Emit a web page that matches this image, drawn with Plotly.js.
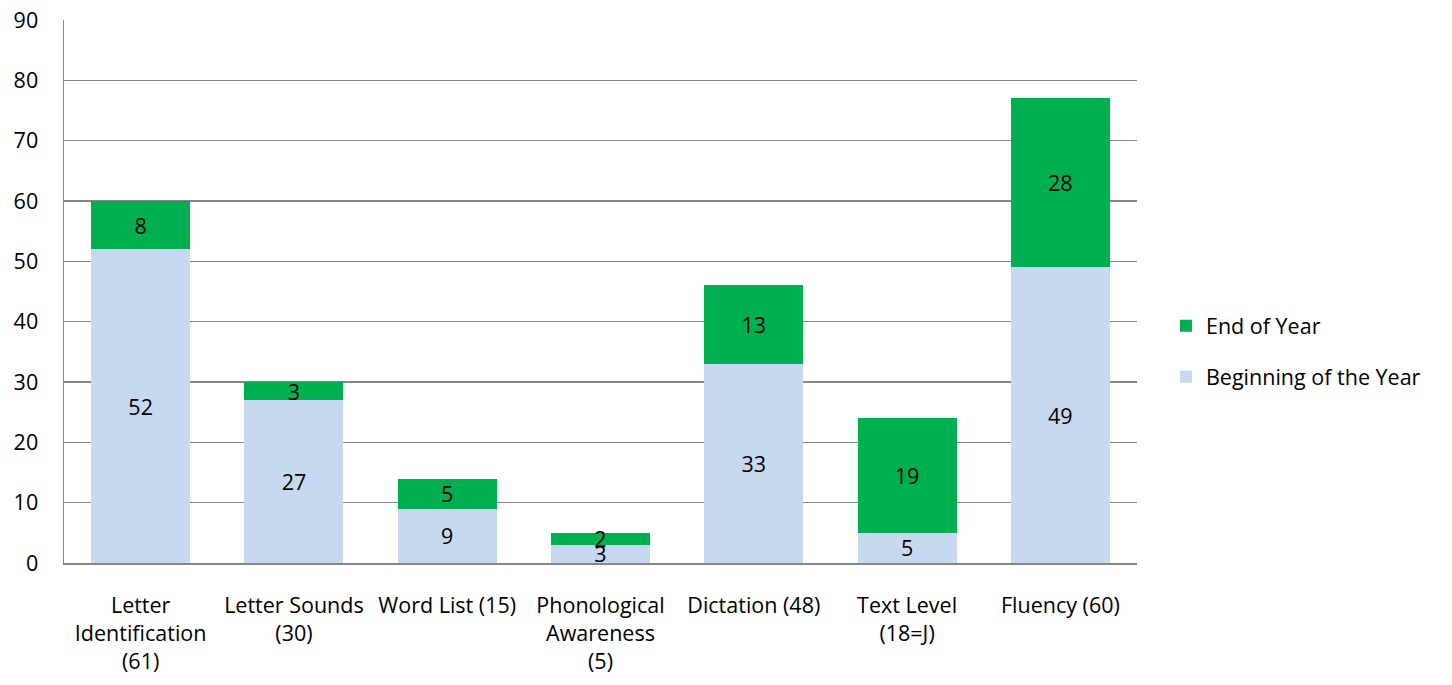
<!DOCTYPE html>
<html><head><meta charset="utf-8">
<script src="https://cdn.plot.ly/plotly-3.0.1.min.js"></script>
<style>html,body{margin:0;padding:0;background:#fff;}#chart{width:1452px;height:685px;}</style>
</head><body><div id="chart"></div>
<script>
const categories = ["Letter<br>Identification<br>(61)", "Letter Sounds<br>(30)", "Word List (15)", "Phonological<br>Awareness<br>(5)", "Dictation (48)", "Text Level<br>(18=J)", "Fluency (60)"];
const beginningOfYear = [52, 27, 9, 3, 33, 5, 49];
const endOfYear = [8, 3, 5, 2, 13, 19, 28];
const yTicks = [0, 10, 20, 30, 40, 50, 60, 70, 80, 90];

const FONT = "'Open Sans', sans-serif";
const FS = 21.5;
const gridColor = "#868686";

const common = {
  type: 'bar',
  x: categories,
  textposition: 'inside',
  insidetextanchor: 'middle',
  constraintext: 'none',
  textangle: 0,
  textfont: {family: FONT, size: FS, color: '#000'},
  hoverinfo: 'skip',
  width: 0.646
};

const traces = [
  Object.assign({}, common, {
    name: 'Beginning of the Year', y: beginningOfYear, text: beginningOfYear.map(String),
    marker: {color: '#C6D9F1'}, legendgroup: 'b', legendrank: 2
  }),
  Object.assign({}, common, {
    name: 'End of Year', y: endOfYear, text: endOfYear.map(String),
    marker: {color: '#00B050'}, legendgroup: 'e', legendrank: 1
  })
];

const layout = {
  width: 1452, height: 685,
  margin: {l: 64, r: 315, t: 20, b: 122},
  barmode: 'stack',
  paper_bgcolor: '#fff', plot_bgcolor: '#fff',
  font: {family: FONT, size: FS, color: '#000'},
  xaxis: {
    showgrid: false, showline: true, linecolor: gridColor, linewidth: 1.5,
    tickfont: {family: FONT, size: FS, color: '#000'},
    ticklabelstandoff: 23, fixedrange: true
  },
  yaxis: {
    range: [0, 90], tickvals: yTicks, ticktext: yTicks.map(String),
    showgrid: true, gridcolor: gridColor, gridwidth: 1.2,
    showline: true, linecolor: gridColor, linewidth: 1.5,
    zeroline: false,
    tickfont: {family: FONT, size: FS, color: '#000'},
    ticklabelstandoff: 20, fixedrange: true
  },
  showlegend: true,
  legend: {
    x: 1.027, xanchor: 'left', y: 0.39, yanchor: 'middle',
    traceorder: 'grouped', tracegroupgap: 20,
    font: {family: FONT, size: FS, color: '#000'},
    itemwidth: 30
  },
  bargap: 0.354
};

Plotly.newPlot('chart', traces, layout, {displayModeBar: false, staticPlot: true});
</script></body></html>
